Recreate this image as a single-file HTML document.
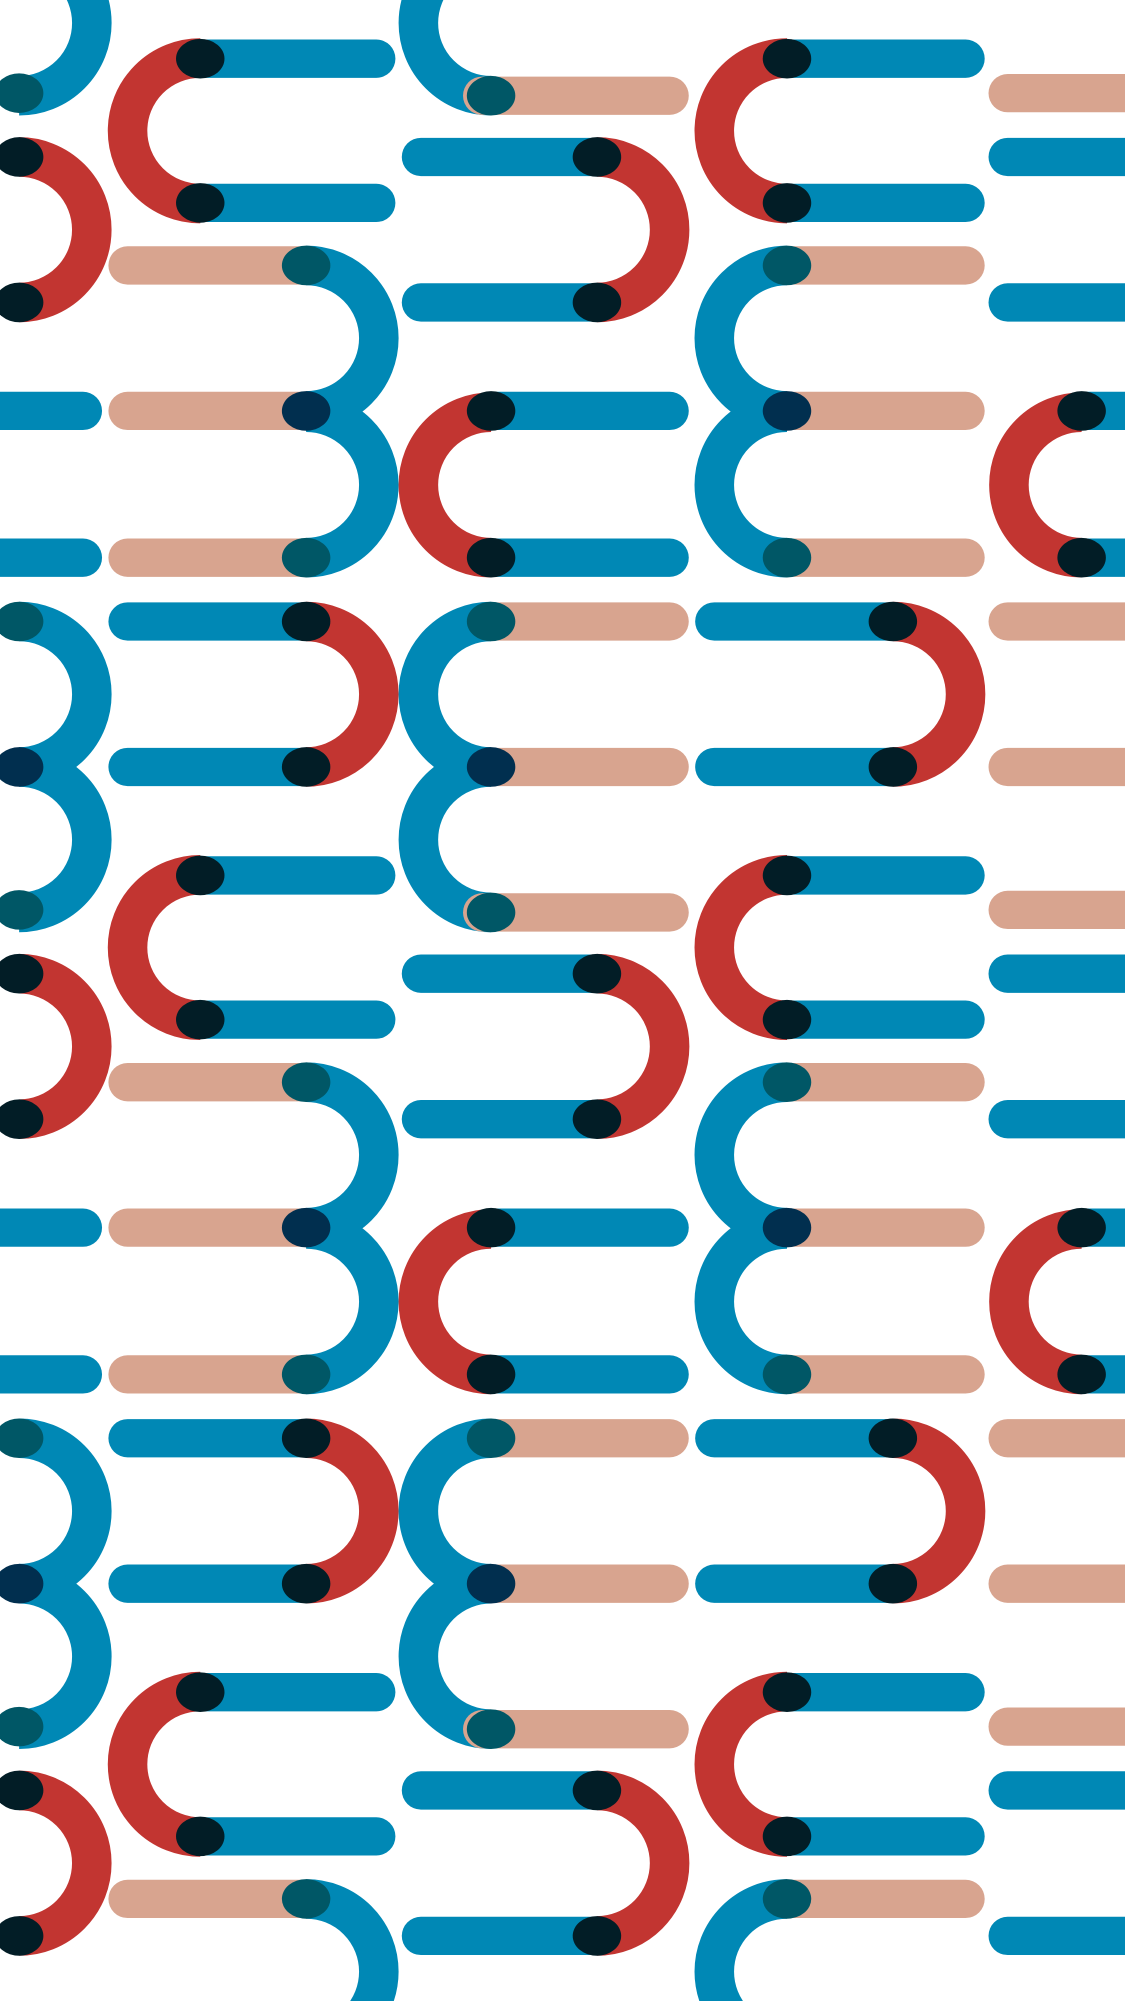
<!DOCTYPE html>
<html><head><meta charset="utf-8"><style>
html,body{margin:0;padding:0;background:#fff;width:1125px;height:2001px;overflow:hidden;}
svg{display:block;overflow:hidden;}
</style></head><body>
<svg id="art" width="1125" height="2001" viewBox="0 0 882 1568" preserveAspectRatio="none" xmlns="http://www.w3.org/2000/svg" overflow="hidden"></svg>
<script>
const B='#0088b5',R='#c23531',S='#d8a48f',DK='#021d26',TL='#005766';
// bars: [x1,x2,y,color]
const bars=[
[157,295,46,B],[157,295,159,B],[100,240,208,S],[100,240,322,S],[100,240,437,S],[100,240,487,B],[100,240,601,B],
[378,525,75,S],[330,468,123,B],[330,468,237,B],[385,525,322,B],[385,525,437,B],[385,525,487,S],[385,525,601,S],
[617,757,46,B],[617,757,159,B],[617,757,208,S],[617,757,322,S],[617,757,437,S],[560,700,487,B],[560,700,601,B],
[790,900,73,S],[790,900,123,B],[790,900,237,B],[848,900,322,B],[848,900,437,B],[790,900,487,S],[790,900,601,S],
[-20,65,322,B],[-20,65,437,B]
];
// arcs: [cx,cy,side(0 left,1 right),color]
const arcs=[
[157,102.5,0,R],[240,265,1,B],[240,380,1,B],[240,544,1,R],
[468,180,1,R],[385,380,0,R],[385,544,0,B],[385,658,0,B],
[617,102.5,0,R],[617,265,0,B],[617,380,0,B],[700,544,1,R],
[848,380,0,R],
[15,180,1,R],[15,544,1,B],[15,658,1,B]
];
// dots: [x,y,color]
const dots=[
[157,46,DK],[157,159,DK],[240,208,TL],[240,322,'#012f4f'],[240,437,TL],[240,487,DK],[240,601,DK],
[385,75,TL],[468,123,DK],[468,237,DK],[385,322,DK],[385,437,DK],[385,487,TL],[385,601,'#012f4f'],
[617,46,DK],[617,159,DK],[617,208,TL],[617,322,'#012f4f'],[617,437,TL],[700,487,DK],[700,601,DK],
[848,322,DK],[848,437,DK],
[15,73,TL],[15,123,DK],[15,237,DK],[15,487,TL],[15,601,'#012f4f']
];
const offsets=[-640,0,640,1280];
const svg=document.getElementById('art');
const NS='http://www.w3.org/2000/svg';
const r=57;
offsets.forEach(function(oy){
  const g=document.createElementNS(NS,'g');
  
  
  g.setAttribute('transform','translate(0,'+oy+')');
  bars.forEach(function(b){
    const l=document.createElementNS(NS,'line');
    l.setAttribute('x1',b[0]);l.setAttribute('x2',b[1]);
    l.setAttribute('y1',b[2]);l.setAttribute('y2',b[2]);
    l.setAttribute('stroke',b[3]);l.setAttribute('stroke-width',30);
    l.setAttribute('stroke-linecap','round');
    
    
    g.appendChild(l);
  });
  arcs.forEach(function(a){
    const p=document.createElementNS(NS,'path');
    p.setAttribute('d','M'+a[0]+' '+(a[1]-r)+' A'+r+' '+r+' 0 0 '+a[2]+' '+a[0]+' '+(a[1]+r));
    p.setAttribute('fill','none');p.setAttribute('stroke',a[3]);
    p.setAttribute('stroke-width',31);
    
    
    g.appendChild(p);
  });
  dots.forEach(function(d){
    const e=document.createElementNS(NS,'ellipse');
    e.setAttribute('cx',d[0]);e.setAttribute('cy',d[1]);
    e.setAttribute('rx',19);e.setAttribute('ry',15.5);
    e.setAttribute('fill',d[2]);
    
    
    g.appendChild(e);
  });
  svg.appendChild(g);
});
</script>
</body></html>
